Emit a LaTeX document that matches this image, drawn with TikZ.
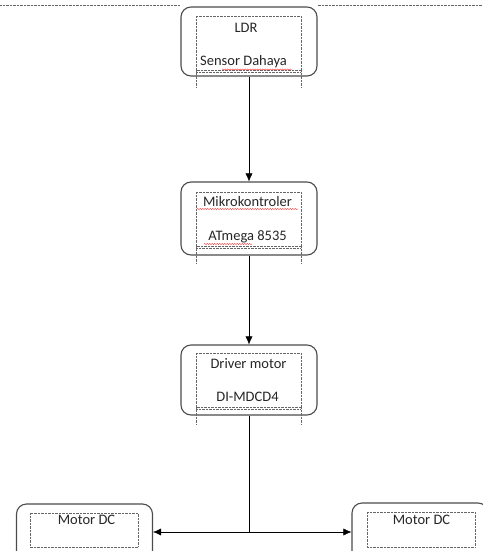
\documentclass[tikz,border=0pt]{standalone}
\usepackage{fontspec}
\setmainfont{Carlito}
\usetikzlibrary{arrows.meta,decorations.pathmorphing}

\begin{document}
\begin{tikzpicture}
[x=1pt,y=-1pt,%
  boxDecorate/.style={shape=rectangle,rounded corners=10pt,draw=black!70,line width=1.1pt,minimum width=136pt,inner sep=0pt},%
  innerDecorate/.style={draw=black!60,densely dotted,thin},%
  lineDecorate/.style={-{Latex[length=8pt,width=7pt]},thin,black},%
  textDecorate/.style={font=\fontsize{14.5}{16}\selectfont,text=black!85,inner sep=0pt},%
  spellDecorate/.style={red!80,thin,decorate,decoration={snake,amplitude=0.6pt,segment length=2.5pt}}]
\useasboundingbox (0,0) rectangle (482,551);
%% nodes or boxes
\foreach \nodename/\x/\y/\h in {
  ldr/249/41.5/69, mcu/249/218.5/73, driver/249/380/70,
  motorL/84.5/539/70, motorR/420/538/70}
{
  \node (\nodename) at (\x,\y) [boxDecorate,minimum height=\h pt] {};
}
%% dotted frames
\draw[innerDecorate] (0,5) -- (ldr.west |- 0,5) (ldr.east |- 0,5) -- (482,5);
\foreach \a/\b/\c/\d in {
  196/16/301/70, 196/192/301/246, 196/353/301/407,
  30/513/138/547, 367/512/475/547}
{
  \draw[innerDecorate] (\a,\b) rectangle (\c,\d);
}
\foreach \b in {70, 246, 407}
{
  \draw[innerDecorate] (196,\b) -- (196,\b+18) (301,\b) -- (301,\b+18)
    (196,\b+2) -- (301,\b+2);
}
%% texts
\foreach \nodename/\x/\y/\txt in {
  ldrTop/246/28/LDR, ldrBottom/243.5/62/Sensor Dahaya,
  mcuTop/247.5/202/Mikrokontroler, mcuBottom/247.5/237/ATmega 8535,
  driverTop/248.5/364/Driver motor, driverBottom/247.5/397/DI-MDCD4,
  motorLText/86.5/520/Motor DC, motorRText/421.5/520/Motor DC}
{
  \node (\nodename) at (\x,\y) [textDecorate] {\txt};
}
\draw[spellDecorate] (222,69.5) -- (292,69.5);
\draw[spellDecorate] (197,209) -- (298,209);
\draw[spellDecorate] (204,244) -- (252,244);
%% edges or lines
\path
\foreach \startnode/\endnode in {ldr/mcu, mcu/driver}
{
  (\startnode) edge[lineDecorate] (\endnode)
};
\coordinate (split) at (249,532);
\draw[thin] (driver) -- (split);
\draw[lineDecorate] (split) -- (motorL.east |- split);
\draw[lineDecorate] (split) -- (motorR.west |- split);
\end{tikzpicture}
\end{document}
